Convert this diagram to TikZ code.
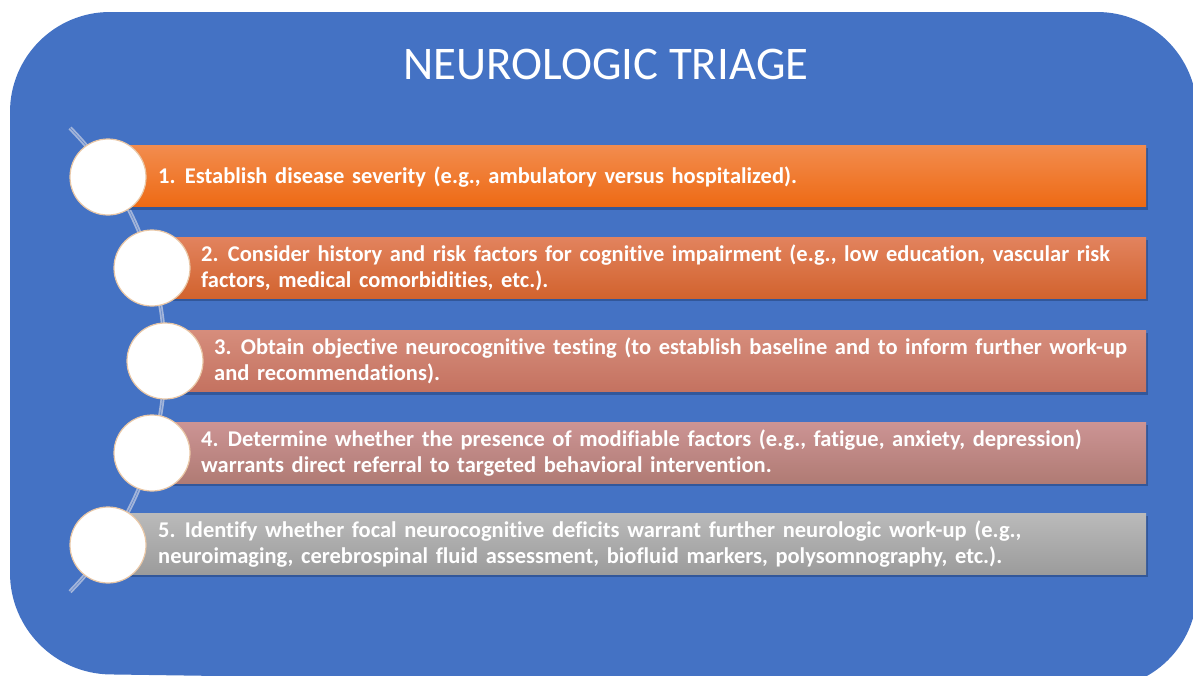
\documentclass[tikz,border=0pt]{standalone}
\usepackage{fontspec}
\setmainfont{Carlito}[WordSpace=1.5, Ligatures=NoCommon]
\newfontfamily\titlefont{Carlito}
\definecolor{bgblue}{HTML}{4472C4}
\definecolor{shadowblue}{HTML}{2C4E8C}
\definecolor{aoneT}{HTML}{F28C4E}\definecolor{aoneB}{HTML}{EE6A14}
\definecolor{atwoT}{HTML}{E2835E}\definecolor{atwoB}{HTML}{D2632E}
\definecolor{athreeT}{HTML}{D68D7C}\definecolor{athreeB}{HTML}{C47260}
\definecolor{afourT}{HTML}{CC9494}\definecolor{afourB}{HTML}{B07B74}
\definecolor{afiveT}{HTML}{BABABA}\definecolor{afiveB}{HTML}{9C9C9C}
\definecolor{ringc}{HTML}{E9C7A6}
\definecolor{arcout}{HTML}{A3B5DA}
\definecolor{arcin}{HTML}{5F84C8}
\tikzset{
  stepbox/.style={rectangle, inner sep=0pt, minimum height=61pt},
  boxshadow/.style={fill=shadowblue, opacity=0.75},
  ringnode/.style={circle, fill=white, draw=ringc, line width=1.2pt, minimum size=76pt, inner sep=0pt},
  steptext/.style={anchor=west, align=left, text=white, inner sep=0pt,
     font=\fontsize{22.5}{26}\selectfont\bfseries},
  arcline/.style={draw=arcout, line width=1.8pt, double=arcin, double distance=0.5pt},
}
\begin{document}
\begin{tikzpicture}[x=1pt,y=-1pt]
\useasboundingbox (0,0) rectangle (1193,675);
\clip (0,0) rectangle (1193,675);
\fill[white] (0,0) rectangle (1193,675);
\fill[bgblue, rounded corners=100pt] (10,12) -- (1197,12) -- (1197,690) -- (10,673) -- cycle;
\node[text=white, font=\titlefont\fontsize{46.8}{52}\selectfont] (title) at (606,64) {NEUROLOGIC TRIAGE};
% arc connector
\coordinate (arctop) at (70,128);
\draw[arcline] (arctop) arc[start angle=-44.5, end angle=44.5, radius=330.8] coordinate (arcbot);
% shadows
\foreach \l/\t/\b in {108/145/207, 152/237/298, 165/330/392, 152/422/483, 108/513/574}{
  \fill[boxshadow] (\l+2,\t+3) rectangle (1148,\b+3);
}
% boxes
\node[stepbox, top color=aoneT, bottom color=aoneB, minimum width=1038pt] (b1) at (627,176) {};
\node[stepbox, top color=atwoT, bottom color=atwoB, minimum width=994pt] (b2) at (649,267.5) {};
\node[stepbox, top color=athreeT, bottom color=athreeB, minimum width=981pt] (b3) at (655.5,361) {};
\node[stepbox, top color=afourT, bottom color=afourB, minimum width=994pt] (b4) at (649,452.5) {};
\node[stepbox, top color=afiveT, bottom color=afiveB, minimum width=1038pt] (b5) at (627,543.5) {};
% circles
\node[ringnode] (c1) at (108,177) {};
\node[ringnode] (c2) at (152,268) {};
\node[ringnode] (c3) at (165,361) {};
\node[ringnode] (c4) at (152,453) {};
\node[ringnode] (c5) at (108,545) {};
% texts
\node[steptext] (t1) at (158,177) {1. Establish disease severity (e.g., ambulatory versus hospitalized).};
\node[steptext] (t2) at (201,268) {2. Consider history and risk factors for cognitive impairment (e.g., low education, vascular risk\\factors, medical comorbidities, etc.).};
\node[steptext] (t3) at (214,361) {3. Obtain objective neurocognitive testing (to establish baseline and to inform further work-up\\and recommendations).};
\node[steptext] (t4) at (201,453) {4. Determine whether the presence of modifiable factors (e.g., fatigue, anxiety, depression)\\warrants direct referral to targeted behavioral intervention.};
\node[steptext] (t5) at (158,544) {5. Identify whether focal neurocognitive deficits warrant further neurologic work-up (e.g.,\\neuroimaging, cerebrospinal fluid assessment, biofluid markers, polysomnography, etc.).};
\end{tikzpicture}
\end{document}
